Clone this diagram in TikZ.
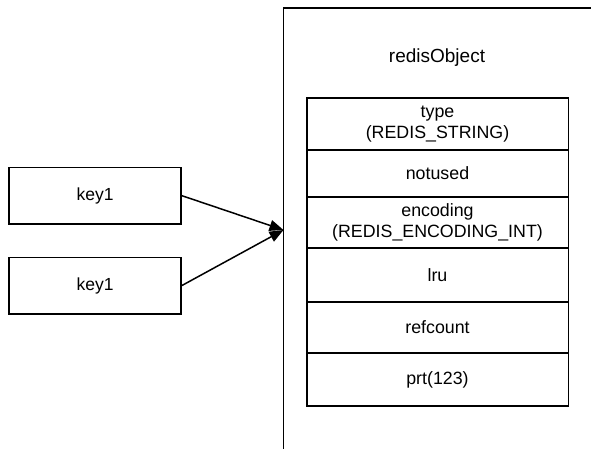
\documentclass[tikz,border=0pt]{standalone}
\usepackage{fontspec}
\setmainfont{Liberation Sans}
\usetikzlibrary{arrows.meta}
\begin{document}
\begin{tikzpicture}[x=1pt,y=-1pt,
  line width=1.5pt,
  txt/.style={font=\fontsize{17.5}{20}\selectfont, inner sep=0pt},
  keybox/.style={draw, minimum width=172pt, minimum height=56.5pt, inner sep=0pt, font=\fontsize{17.5}{20}\selectfont},
  rowbox/.style={draw, minimum width=261.5pt, inner sep=0pt, align=center, font=\fontsize{17.8}{20.5}\selectfont},
  link/.style={-{Triangle[length=14pt,width=11pt]}, line width=1.5pt}
]
\useasboundingbox (0,0) rectangle (591,449);
% outer redisObject frame (cut by picture edges)
\draw (592,8) -- (283.5,8) -- (283.5,450);
\node[txt, font=\fontsize{19}{22}\selectfont] (title) at (437,58) {redisObject};
% inner rows
\node[rowbox, minimum height=52pt] (type) at (437.5,124) {type\\(REDIS\_STRING)};
\node[rowbox, minimum height=47pt] (notused) at (437.5,173.5) {notused};
\node[rowbox, minimum height=51pt] (enc) at (437.5,222.5) {encoding\\(REDIS\_ENCODING\_INT)};
\node[rowbox, minimum height=54pt] (lru) at (437.5,275) {lru};
\node[rowbox, minimum height=51pt] (ref) at (437.5,327.5) {refcount};
\node[rowbox, minimum height=53pt] (ptr) at (437.5,379.5) {prt(123)};
% keys
\node[keybox] (k1) at (95.2,195.7) {key1};
\node[keybox] (k2) at (95.2,285.5) {key1};
\coordinate (target) at (283.5,230);
\draw[link] (k1.east) -- (target);
\draw[link] (k2.east) -- (target);
\end{tikzpicture}
\end{document}
